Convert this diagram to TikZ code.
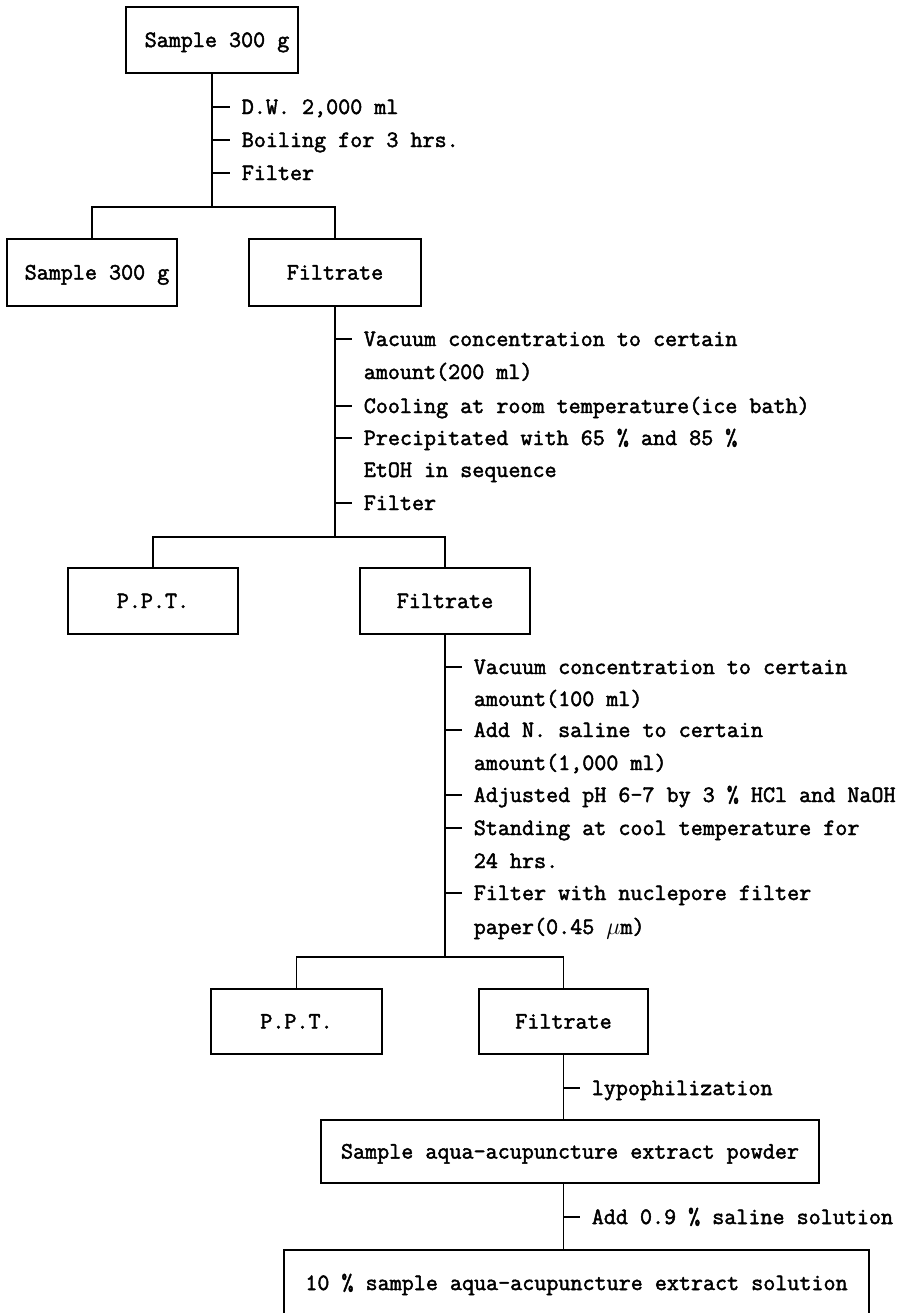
\documentclass[tikz,border=0pt]{standalone}
\usepackage{fontspec}
\setmonofont{Latin Modern Mono}[FakeBold=2]
\usetikzlibrary{positioning}

\begin{document}
\begin{tikzpicture}[x=0.5pt,y=-0.5pt,line width=0.8pt,
 font=\ttfamily\fontsize{11.7pt}{15pt}\selectfont,
 box/.style={draw,minimum height=33pt,inner sep=0pt,text height=8.5pt,text depth=1.5pt},
 note/.style={anchor=west,inner xsep=5.5pt,inner ysep=0pt,text height=8.5pt,text depth=1.5pt}]
 \clip (0,0) rectangle (902,1313);
 % boxes
 \node[box,minimum width=86pt] (top) at (212,40) {\hspace*{5pt}Sample 300 g};
 \node[box,minimum width=85pt,minimum height=33.5pt] (res1) at (92,272.5) {\hspace*{5pt}Sample 300 g};
 \node[box,minimum width=86pt,minimum height=33.5pt] (filt1) at (335,272.5) {Filtrate};
 \node[box,minimum width=85pt] (ppt1) at (153,601) {P.P.T.};
 \node[box,minimum width=85pt] (filt2) at (445,601) {Filtrate};
 \node[box,minimum width=85.5pt,minimum height=32.5pt] (ppt2) at (296.5,1021.5) {P.P.T.};
 \node[box,minimum width=84.5pt,minimum height=32.5pt] (filt3) at (563.5,1021.5) {Filtrate};
 \node[box,minimum width=249pt,minimum height=31.5pt] (powder) at (570,1151.5) {Sample aqua-acupuncture extract powder};
 \node[box,minimum width=292.5pt] (sol) at (576.5,1283) {10 \% sample aqua-acupuncture extract solution};
 % steps
 \node[note] (dw) at (230,107) {D.W. 2,000 ml};
 \node[note] (boil) at (230,140) {Boiling for 3 hrs.};
 \node[note] (fil1) at (230,173) {Filter};
 \node[note] (vac1) at (352,339) {Vacuum concentration to certain};
 \node[note] (vac1b) at (352,372) {amount(200 ml)};
 \node[note] (cool) at (352,406) {Cooling at room temperature(ice bath)};
 \node[note] (prec) at (352,438) {Precipitated with 65 \% and 85 \%};
 \node[note] (precb) at (352,470) {EtOH in sequence};
 \node[note] (fil2) at (352,503) {Filter};
 \node[note] (vac2) at (462,667) {Vacuum concentration to certain};
 \node[note] (vac2b) at (462,699) {amount(100 ml)};
 \node[note] (sal) at (462,730) {Add N. saline to certain};
 \node[note] (salb) at (462,763) {amount(1,000 ml)};
 \node[note] (ph) at (462,795) {Adjusted pH 6-7 by 3 \% HCl and NaOH};
 \node[note] (cold) at (462,828) {Standing at cool temperature for};
 \node[note] (coldb) at (462,861) {24 hrs.};
 \node[note] (fil3) at (462,893) {Filter with nuclepore filter};
 \node[note] (fil3b) at (462,927) {paper(0.45 $\mu$m)};
 \node[note] (lyo) at (580,1088) {lypophilization};
 \node[note] (add) at (580,1217) {Add 0.9 \% saline solution};
 % stems and branches
 \draw (top.south) -- ++(0,133) coordinate (j1);
 \draw (res1.north) |- (j1) -| (filt1.north);
 \draw (filt1.south) -- ++(0,230) coordinate (j2);
 \draw (ppt1.north) |- (j2) -| (filt2.north);
 \draw (filt2.south) -- ++(0,322) coordinate (j3);
 \draw (ppt2.north) |- (j3) -| (filt3.north);
 \draw (filt3.south) -- (filt3.south |- powder.north);
 \draw (powder.south -| filt3.south) -- (sol.north -| filt3.south);
 % ticks
 \draw (dw.west -| top.south) -- (dw.west);
 \draw (boil.west -| top.south) -- (boil.west);
 \draw (fil1.west -| top.south) -- (fil1.west);
 \draw (vac1.west -| filt1.south) -- (vac1.west);
 \draw (cool.west -| filt1.south) -- (cool.west);
 \draw (prec.west -| filt1.south) -- (prec.west);
 \draw (fil2.west -| filt1.south) -- (fil2.west);
 \draw (vac2.west -| filt2.south) -- (vac2.west);
 \draw (sal.west -| filt2.south) -- (sal.west);
 \draw (ph.west -| filt2.south) -- (ph.west);
 \draw (cold.west -| filt2.south) -- (cold.west);
 \draw (fil3.west -| filt2.south) -- (fil3.west);
 \draw (lyo.west -| filt3.south) -- (lyo.west);
 \draw (add.west -| filt3.south) -- (add.west);
\end{tikzpicture}
\end{document}
